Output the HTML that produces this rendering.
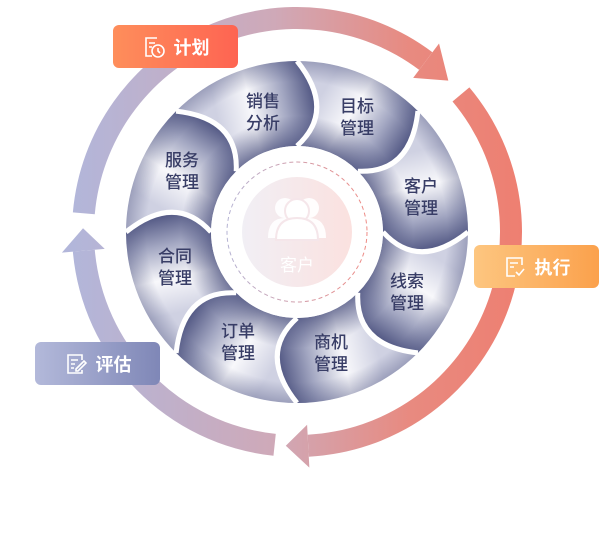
<!DOCTYPE html>
<html><head><meta charset="utf-8">
<style>
html,body{margin:0;padding:0;background:#fff;}
#wrap{position:relative;width:600px;height:550px;overflow:hidden;font-family:"Liberation Sans","Noto Sans CJK SC",sans-serif;}
svg{position:absolute;left:0;top:0;}
.lb{position:absolute;width:60px;margin-left:-30px;text-align:center;font-size:17px;line-height:22px;color:#383d66;font-weight:500;}
.tag{position:absolute;height:43px;border-radius:6px;color:#fff;font-size:18px;font-weight:bold;display:flex;align-items:center;justify-content:center;gap:8px;}
</style></head><body>
<div id="wrap">
<svg id="s" width="600" height="550" viewBox="0 0 600 550">
<defs>
<linearGradient id="ring" gradientUnits="userSpaceOnUse" x1="72" y1="0" x2="522" y2="0">
<stop offset="0" stop-color="#b2b6da"/><stop offset="0.45" stop-color="#cfa9b8"/><stop offset="0.75" stop-color="#e88a80"/><stop offset="1" stop-color="#ee7f71"/>
</linearGradient>
<radialGradient id="shade" gradientUnits="userSpaceOnUse" cx="297" cy="232" r="171">
<stop offset="0.5" stop-color="#3f4575" stop-opacity="0.7"/><stop offset="0.68" stop-color="#3f4575" stop-opacity="0"/><stop offset="0.88" stop-color="#3f4575" stop-opacity="0"/><stop offset="1" stop-color="#3f4575" stop-opacity="0.35"/>
</radialGradient>
<linearGradient id="cen" x1="0" y1="0" x2="1" y2="0"><stop offset="0" stop-color="#f1eff5"/><stop offset="1" stop-color="#fbe1df"/></linearGradient>
<linearGradient id="dash" x1="0" y1="0" x2="1" y2="0"><stop offset="0" stop-color="#b5b3d3"/><stop offset="1" stop-color="#ee8a84"/></linearGradient>
</defs>
<g id="g"></g>
<circle cx="297" cy="232" r="70" fill="none" stroke="url(#dash)" stroke-width="1" stroke-dasharray="4 3"/>
<circle cx="297" cy="232" r="55" fill="url(#cen)"/>
<g fill="#fff">
<circle cx="285" cy="208" r="10" opacity="0.9"/><circle cx="309" cy="208" r="10" opacity="0.9"/>
<path d="M268 238 q0 -20 17 -20 h24 q17 0 17 20 z" opacity="0.9"/>
<circle cx="297" cy="211" r="12" stroke="#f5e6ea" stroke-width="2"/>
<path d="M276 240 q0 -22 21 -22 q21 0 21 22 z" stroke="#f5e6ea" stroke-width="2"/>
</g>
<text x="297" y="271" text-anchor="middle" font-size="17" fill="#fff" font-family="Liberation Sans, Noto Sans CJK SC, sans-serif">客户</text>
</svg>
<div class="lb" style="left:263px;top:91px">销售<br>分析</div>
<div class="lb" style="left:357px;top:96px">目标<br>管理</div>
<div class="lb" style="left:421px;top:176px">客户<br>管理</div>
<div class="lb" style="left:407px;top:271px">线索<br>管理</div>
<div class="lb" style="left:331px;top:332px">商机<br>管理</div>
<div class="lb" style="left:238px;top:321px">订单<br>管理</div>
<div class="lb" style="left:175px;top:246px">合同<br>管理</div>
<div class="lb" style="left:182px;top:150px">服务<br>管理</div>
<div class="tag" style="left:113px;top:25px;width:125px;background:linear-gradient(90deg,#fe8e5b,#fe6452)">
<svg style="position:static" width="24" height="24" viewBox="0 0 24 24" fill="none" stroke="#fff" stroke-width="1.6"><path d="M15 3H4v18h6"/><path d="M7 8h6M7 12h3"/><circle cx="16" cy="16" r="6"/><path d="M16 13v3l2 2"/></svg><span>计划</span></div>
<div class="tag" style="left:474px;top:245px;width:125px;background:linear-gradient(90deg,#fdc680,#fba14c)">
<svg style="position:static" width="24" height="24" viewBox="0 0 24 24" fill="none" stroke="#fff" stroke-width="1.6"><path d="M19 10V3H4v18h8"/><path d="M7 8h8M7 12h4"/><path d="M13 17l3 3 5-6"/></svg><span>执行</span></div>
<div class="tag" style="left:35px;top:342px;width:125px;background:linear-gradient(90deg,#b3b9da,#7f87b7)">
<svg style="position:static" width="24" height="24" viewBox="0 0 24 24" fill="none" stroke="#fff" stroke-width="1.6"><path d="M18 8V3H4v18h14v-3"/><path d="M7 8h7M7 12h4M7 16h3"/><path d="M12 17l8-8 2 2-8 8h-2z"/></svg><span>评估</span></div>
</div>
<script>
(function(){
var NS="http://www.w3.org/2000/svg",g=document.getElementById("g"),defs=document.querySelector("defs");
function P(r,t){t=t*Math.PI/180;return (297+r*Math.sin(t)).toFixed(2)+" "+(232-r*Math.cos(t)).toFixed(2);}
function el(n,a,p){var e=document.createElementNS(NS,n);for(var k in a)e.setAttribute(k,a[k]);(p||g).appendChild(e);return e;}
function seg(a,b){var lg=(b-a)>180?1:0;return "M"+P(225,a)+" A225 225 0 "+lg+" 1 "+P(225,b)+" L"+P(203,b)+" A203 203 0 "+lg+" 0 "+P(203,a)+" Z";}
function head(b,tip){return "M"+P(193,b)+" L"+P(236,b)+" L"+P(214,tip)+" Z";}
[[275,37,45],[50,177,183],[186,265,271]].forEach(function(s){
 el("path",{d:seg(s[0],s[1]),fill:"url(#ring)"});
 el("path",{d:head(s[1],s[2]),fill:"url(#ring)"});
});
var RI=86,RO=171;
function sep(t){return [P(RI,t),P(128,t+18),P(RO,t)];}
for(var k=0;k<8;k++){
 var a=45*k,b=45*(k+1),sa=sep(a),sb=sep(b);
 var d="M"+sa[0]+" Q"+sa[1]+" "+sa[2]+" A"+RO+" "+RO+" 0 0 1 "+sb[2]+" Q"+sb[1]+" "+sb[0]+" A"+RI+" "+RI+" 0 0 0 "+sa[0]+" Z";
 var id="pg"+k,p1=P(128,a+8).split(" "),p2=P(128,b+12).split(" ");
 var lgd=el("linearGradient",{id:id,gradientUnits:"userSpaceOnUse",x1:p1[0],y1:p1[1],x2:p2[0],y2:p2[1]},defs);
 [[0,"#cfd1e2"],[0.33,"#f8f8fb"],[0.65,"#a3a7c2"],[1,"#3f4575"]].forEach(function(s){el("stop",{offset:s[0],"stop-color":s[1]},lgd);});
 el("path",{d:d,fill:"url(#"+id+")"});
 el("path",{d:d,fill:"url(#shade)"});
}
for(var k=0;k<8;k++){var s=sep(45*k);el("path",{d:"M"+s[0]+" Q"+s[1]+" "+s[2],fill:"none",stroke:"#fff","stroke-width":5});}
el("circle",{cx:297,cy:232,r:RI,fill:"#fff"});
})();
</script>
</body></html>
